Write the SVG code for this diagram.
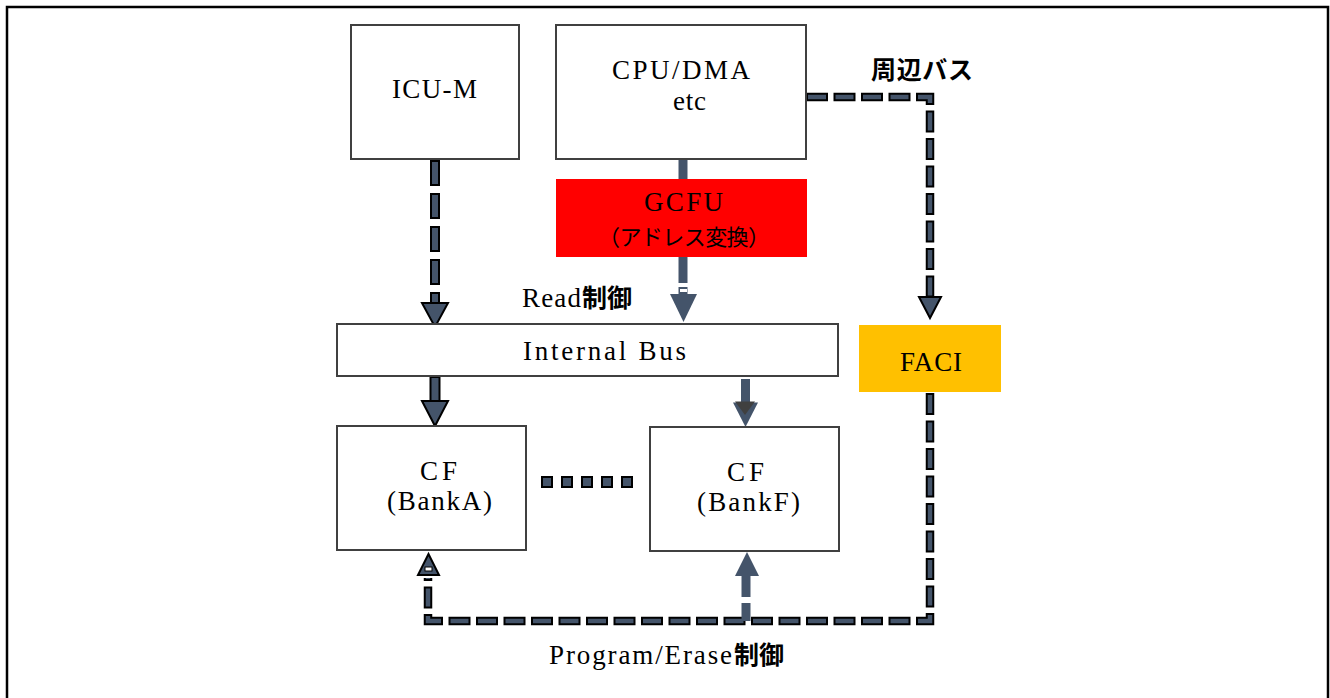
<svg xmlns="http://www.w3.org/2000/svg" width="1330" height="698" viewBox="0 0 1330 698">
<style>
.box{fill:#fff;stroke:#404040;stroke-width:2}
.t{font-family:"Liberation Serif","Times New Roman",serif;font-size:27px;fill:#000}
.j{font-family:"Noto Sans CJK JP","Noto Sans",sans-serif;font-weight:bold;font-size:25px;fill:#000}
.jr{font-family:"Noto Sans CJK JP","Noto Sans",sans-serif;font-size:22px;fill:#000}
.o1{fill:none;stroke:#000;stroke-width:10;stroke-dasharray:26 7}
.i1{fill:none;stroke:#44546A;stroke-width:6;stroke-dasharray:22 11;stroke-dashoffset:-2}
.o2{fill:none;stroke:#000;stroke-width:8.5;stroke-dasharray:22 5.5}
.i2{fill:none;stroke:#44546A;stroke-width:4.5;stroke-dasharray:18 9.5;stroke-dashoffset:-2}
.solid{fill:none;stroke:#44546A;stroke-width:9}
.head{fill:#44546A;stroke:#000;stroke-width:2;stroke-linejoin:miter}
.headn{fill:#44546A}
.sq{fill:#44546A;stroke:#000;stroke-width:2}
</style>
<rect x="7" y="7" width="1321" height="700" fill="#fff" stroke="#000" stroke-width="2.5"/>

<g id="connectors">
  <!-- ICU-M to Internal Bus -->
  <path class="o1" d="M435 160 V306"/>
  <path class="i1" d="M435 160 V306"/>
  <polygon class="head" points="422,303 448,303 435,327"/>
  <!-- CPU to GCFU -->
  <path class="solid" d="M683 160 V179"/>
  <!-- GCFU to Internal Bus -->
  <path class="solid" d="M683 257 V283"/>
  <path class="solid" d="M683 287 V295"/>
  <polygon class="headn" points="670,294 697,294 683.5,322"/>
  <rect x="680" y="289" width="7" height="3" fill="#fff"/>
  <!-- Peripheral bus CPU to FACI -->
  <path class="o2" d="M806 97 H930 V300"/>
  <path class="i2" d="M806 97 H930 V300"/>
  <polygon class="head" points="919,297 941,297 930,318"/>
  <!-- Internal Bus to BankA -->
  <rect x="430.5" y="377" width="9" height="25" fill="#44546A" stroke="#000" stroke-width="2"/>
  <polygon class="head" points="422,401 448,401 435,426"/>
  <!-- Internal Bus to BankF -->
  <path class="solid" d="M745.5 379 V403"/>
  <polygon class="headn" points="733,402.5 758,402.5 745.5,427"/>
  <polygon fill="#404040" points="735,401.5 755,401.5 745,415"/>
  <!-- FACI to BankA (Program/Erase) -->
  <path class="o2" d="M930 393 V621 H428 V578"/>
  <path class="i2" d="M930 393 V621 H428 V578"/>
  <polygon class="head" points="418,575 439,575 428.5,554"/>
  <rect x="425" y="567" width="7" height="4" fill="#fff" stroke="#000" stroke-width="1"/>
  <!-- Bottom line to BankF -->
  <path class="solid" d="M746 621 V603"/>
  <path class="solid" d="M746 597 V574"/>
  <polygon class="headn" points="735,576 759,576 747,552"/>
  <!-- Dotted link BankA ... BankF -->
  <rect class="sq" x="542" y="477" width="10" height="10"/>
  <rect class="sq" x="562" y="477" width="10" height="10"/>
  <rect class="sq" x="582" y="477" width="10" height="10"/>
  <rect class="sq" x="602" y="477" width="10" height="10"/>
  <rect class="sq" x="622" y="477" width="10" height="10"/>
</g>

<g id="icu-m">
  <rect class="box" x="351" y="25" width="168" height="134"/>
  <text class="t" x="392" y="98" textLength="85" lengthAdjust="spacing" font-size="26">ICU-M</text>
</g>

<g id="cpu-dma">
  <rect class="box" x="556" y="25" width="250" height="134"/>
  <text class="t" x="612" y="79" textLength="138" lengthAdjust="spacing" font-size="26">CPU/DMA</text>
  <text class="t" x="673" y="110" textLength="33" lengthAdjust="spacing" font-size="24">etc</text>
</g>

<g id="gcfu">
  <rect x="556" y="179" width="251" height="78" fill="#FF0000"/>
  <text class="t" x="644" y="211" textLength="79" lengthAdjust="spacing">GCFU</text>
  <text class="jr" x="598" y="245" textLength="172" lengthAdjust="spacing">（アドレス変換）</text>
</g>

<g id="label-periph">
  <text class="j" x="871" y="79" textLength="102" lengthAdjust="spacing">周辺バス</text>
</g>

<g id="label-read">
  <text class="t" x="522" y="307" textLength="59" lengthAdjust="spacing" font-size="26">Read</text>
  <text class="j" x="582" y="307">制御</text>
</g>

<g id="internal-bus">
  <rect class="box" x="337" y="324" width="501" height="52"/>
  <text class="t" x="523" y="360" textLength="163" lengthAdjust="spacing" font-size="26">Internal Bus</text>
</g>

<g id="faci">
  <rect x="859" y="325" width="142" height="67" fill="#FFC000"/>
  <text class="t" x="900" y="371" textLength="62" lengthAdjust="spacing" font-size="26">FACI</text>
</g>

<g id="cf-banka">
  <rect class="box" x="337" y="426" width="189" height="124"/>
  <text class="t" x="420" y="480" textLength="37" lengthAdjust="spacing" font-size="25">CF</text>
  <text class="t" x="387" y="510" textLength="105" lengthAdjust="spacing" font-size="25">(BankA)</text>
</g>

<g id="cf-bankf">
  <rect class="box" x="650" y="427" width="189" height="124"/>
  <text class="t" x="727" y="481" textLength="37" lengthAdjust="spacing" font-size="25">CF</text>
  <text class="t" x="697" y="511" textLength="103" lengthAdjust="spacing" font-size="25">(BankF)</text>
</g>

<g id="label-pe">
  <text class="t" x="549" y="664" textLength="183" lengthAdjust="spacing" font-size="26">Program/Erase</text>
  <text class="j" x="734" y="664">制御</text>
</g>
</svg>
